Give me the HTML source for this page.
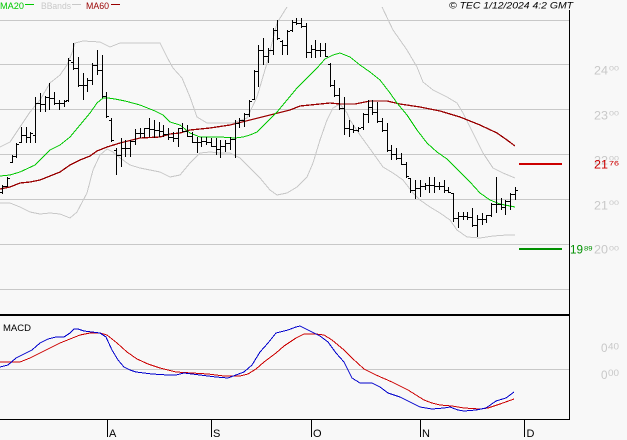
<!DOCTYPE html>
<html><head><meta charset="utf-8"><style>
html,body{margin:0;padding:0;background:#f8f8f8;}
svg{display:block;font-family:"Liberation Sans",Arial,sans-serif;}
</style></head><body>
<svg width="627" height="440" viewBox="0 0 627 440" xmlns="http://www.w3.org/2000/svg">
<defs>
<clipPath id="cm"><rect x="0" y="7" width="569" height="307"/></clipPath>
<clipPath id="cd"><rect x="0" y="316" width="569" height="103"/></clipPath>
</defs>
<rect x="0" y="0" width="627" height="440" fill="#f8f8f8"/>

<g stroke="#c8c8c8" stroke-width="1" shape-rendering="crispEdges">
<path d="M0 20.5H569M0 64.5H569M0 109.5H569M0 154.5H569M0 199.5H569M0 244.5H569M0 289.5H569M0 369.5H569"/>
</g>

<text x="0" y="8.8" font-size="9" fill="#00c800" textLength="24" lengthAdjust="spacingAndGlyphs">MA20</text>
<rect x="25" y="4" width="9" height="1" fill="#00c800"/>
<text x="41" y="8.8" font-size="9" fill="#c8c8c8" textLength="30" lengthAdjust="spacingAndGlyphs">BBands</text>
<rect x="72" y="4" width="9" height="1" fill="#c8c8c8"/>
<text x="86" y="8.8" font-size="9" fill="#990000" textLength="23" lengthAdjust="spacingAndGlyphs">MA60</text>
<rect x="111" y="4" width="9" height="1" fill="#990000"/>

<text x="449" y="8.6" font-size="9" font-style="italic" fill="#000" textLength="124" lengthAdjust="spacingAndGlyphs">© TEC 1/12/2024 4:2 GMT</text>

<g clip-path="url(#cm)" fill="none" shape-rendering="crispEdges">
<polyline stroke="#c8c8c8" stroke-width="1" points="0,147 10,142 20,127 30,112 40,100 50,83 60,75 67,65 72,53 75,43 83,41 100,42 110,47 120,43 140,43 160,43 167,57 173,68 182,78 190,97 197,117 207,123 233,123 247,118 257,97 267,63 277,23 287,7 297,-15 373,-15 383,9 393,30 407,50 417,67 423,82 433,90 447,97 457,103 463,113 473,133 483,153 493,168 503,173 515,178"/>
<polyline stroke="#c8c8c8" stroke-width="1" points="0,203 10,203 20,207 30,212 40,214 50,213 60,214 70,218 77,212 87,193 93,170 100,155 107,149 113,152 120,158 130,165 140,168 160,172 170,177 180,175 190,163 200,153 210,152 220,153 230,153 240,158 250,168 260,178 270,190 277,195 287,193 297,187 307,177 313,163 320,140 327,120 333,108 340,104 347,113 350,120 360,135 373,153 383,167 393,173 403,180 413,193 420,200 430,207 440,213 450,220 457,230 467,237 480,238 493,236 507,235 515,235"/>
<polyline stroke="#990000" stroke-width="1.3" points="0,189 10,187 20,183 30,182 40,180 50,176 60,172 70,165 80,160 90,156 97,151 107,147 120,143 140,138 160,137 170,134 180,133 190,130 210,128 230,125 250,120 270,115 290,110 300,106 310,105 330,103 340,104 355,104 370,101 387,101 400,104 420,107 440,111 460,117 480,125 497,133 507,140 515,146"/>
<polyline stroke="#00c800" stroke-width="1" points="0,176 10,175 20,172 35,165 40,160 50,150 60,145 70,137 80,125 90,113 97,103 103,98 108,98 115,99 125,101 140,105 155,111 163,115 170,122 180,125 190,133 200,137 210,137 220,137 235,138 243,137 250,135 257,132 267,122 277,112 287,100 297,88 307,78 317,68 325,59 333,55 340,53 350,57 360,65 370,72 380,80 390,93 397,103 407,115 417,130 427,143 437,152 447,159 460,172 470,182 480,193 490,200 500,204 510,206 515,207"/>
<path stroke="#000" stroke-width="1" d="M2.5 185V194M7.5 177V187M12.5 155V163M16.5 143V158M21.5 127V143M26.5 127V143M30.5 132V143M35.5 97V143M40.5 93V112M45.5 96V112M49.5 83V110M54.5 92V105M59.5 100V110M64.5 100V107M68.5 58V102M73.5 43V70M78.5 57V87M83.5 73V100M87.5 78V92M92.5 63V85M97.5 50V75M102.5 55V98M106.5 92V118M111.5 118V142M116.5 148V175M121.5 138V167M125.5 140V157M130.5 140V157M135.5 129V145M140.5 128V138M144.5 128V138M149.5 118V137M154.5 120V138M159.5 122V137M163.5 125V137M168.5 128V140M173.5 132V142M178.5 128V147M182.5 123V132M187.5 125V137M192.5 132V143M197.5 137V153M201.5 137V147M206.5 137V145M211.5 138V147M216.5 138V155M220.5 140V158M225.5 140V152M230.5 137V150M235.5 120V158M239.5 118V128M244.5 113V127M249.5 100V117M254.5 70V100M258.5 45V87M263.5 38V65M268.5 48V63M273.5 28V55M277.5 20V40M282.5 40V55M287.5 30V55M292.5 20V32M296.5 18V25M301.5 18V28M306.5 23V58M311.5 45V58M315.5 40V58M320.5 43V57M325.5 43V57M330.5 63V87M334.5 80V97M339.5 88V110M344.5 97V135M349.5 120V137M353.5 125V133M358.5 127V132M363.5 113V130M368.5 100V123M372.5 100V115M377.5 102V123M382.5 118V132M387.5 123V152M391.5 145V160M396.5 148V160M401.5 153V165M406.5 162V178M410.5 178V193M415.5 180V199M420.5 180V197M425.5 183V190M429.5 177V193M434.5 177V193M439.5 182V190M444.5 180V193M448.5 187V193M453.5 193V222M458.5 212V228M463.5 212V220M467.5 212V220M472.5 208V227M477.5 215V237M482.5 213V225M486.5 215V223M491.5 203V217M496.5 177V213M501.5 198V210M505.5 200V215M510.5 193V210M515.5 187V200"/>
<path stroke="#000" stroke-width="1" d="M0 192.5h2M5 186.5h2M10 162.5h2M14 156.5h2M19 142.5h2M24 135.5h2M28 137.5h2M33 135.5h2M38 103.5h2M43 104.5h2M47 97.5h2M52 98.5h2M57 103.5h2M62 103.5h2M66 100.5h2M71 62.5h2M76 68.5h2M81 85.5h2M85 85.5h2M90 80.5h2M95 65.5h2M100 70.5h2M104 96.5h2M109 120.5h2M114 150.5h2M119 155.5h2M123 148.5h2M128 148.5h2M133 141.5h2M138 133.5h2M142 133.5h2M147 128.5h2M152 129.5h2M157 130.5h2M161 131.5h2M166 134.5h2M171 137.5h2M176 138.5h2M180 128.5h2M185 131.5h2M190 136.5h2M195 142.5h2M199 142.5h2M204 141.5h2M209 142.5h2M214 146.5h2M218 149.5h2M223 146.5h2M228 143.5h2M233 139.5h2M237 123.5h2M242 120.5h2M247 114.5h2M252 99.5h2M256 71.5h2M261 50.5h2M266 56.5h2M271 50.5h2M275 30.5h2M280 41.5h2M285 45.5h2M290 30.5h2M294 22.5h2M299 23.5h2M304 26.5h2M309 52.5h2M313 49.5h2M318 50.5h2M323 50.5h2M328 64.5h2M332 85.5h2M337 95.5h2M342 108.5h2M347 128.5h2M351 129.5h2M356 130.5h2M361 127.5h2M366 114.5h2M370 107.5h2M375 112.5h2M380 121.5h2M385 130.5h2M389 150.5h2M394 154.5h2M399 158.5h2M404 164.5h2M408 178.5h2M413 190.5h2M418 188.5h2M423 186.5h2M427 185.5h2M432 185.5h2M437 186.5h2M442 186.5h2M446 190.5h2M451 193.5h2M456 218.5h2M461 216.5h2M465 216.5h2M470 217.5h2M475 225.5h2M480 219.5h2M484 219.5h2M489 215.5h2M494 204.5h2M499 204.5h2M503 207.5h2M508 201.5h2M513 194.5h2"/>
<path stroke="#000" stroke-width="1" d="M3 186.5h2M8 178.5h2M13 156.5h2M17 144.5h2M22 135.5h2M27 137.5h2M31 133.5h2M36 103.5h2M41 104.5h2M46 97.5h2M50 98.5h2M55 103.5h2M60 103.5h2M65 101.5h2M69 60.5h2M74 68.5h2M79 85.5h2M84 85.5h2M88 80.5h2M93 65.5h2M98 70.5h2M103 96.5h2M107 116.5h2M112 140.5h2M117 155.5h2M122 148.5h2M126 148.5h2M131 141.5h2M136 133.5h2M141 133.5h2M145 128.5h2M150 129.5h2M155 130.5h2M160 131.5h2M164 134.5h2M169 137.5h2M174 138.5h2M179 128.5h2M183 131.5h2M188 136.5h2M193 142.5h2M198 142.5h2M202 141.5h2M207 142.5h2M212 146.5h2M217 149.5h2M221 146.5h2M226 143.5h2M231 139.5h2M236 123.5h2M240 120.5h2M245 114.5h2M250 101.5h2M255 71.5h2M259 50.5h2M264 56.5h2M269 50.5h2M274 30.5h2M278 38.5h2M283 45.5h2M288 31.5h2M293 22.5h2M297 23.5h2M302 26.5h2M307 52.5h2M312 49.5h2M316 50.5h2M321 50.5h2M326 56.5h2M331 85.5h2M335 95.5h2M340 108.5h2M345 128.5h2M350 129.5h2M354 130.5h2M359 128.5h2M364 114.5h2M369 107.5h2M373 112.5h2M378 121.5h2M383 130.5h2M388 150.5h2M392 154.5h2M397 158.5h2M402 164.5h2M407 176.5h2M411 190.5h2M416 188.5h2M421 186.5h2M426 185.5h2M430 185.5h2M435 186.5h2M440 186.5h2M445 190.5h2M449 192.5h2M454 218.5h2M459 216.5h2M464 216.5h2M468 217.5h2M473 225.5h2M478 219.5h2M483 219.5h2M487 215.5h2M492 204.5h2M497 204.5h2M502 207.5h2M506 201.5h2M511 194.5h2M516 190.5h2"/>
</g>

<rect x="519" y="163" width="43" height="2" fill="#cc0000"/>
<rect x="519" y="248" width="43" height="2" fill="#009000"/>

<g fill="#c8c8c8">
<text x="594" y="74.5" font-size="12" textLength="14" lengthAdjust="spacingAndGlyphs">24</text>
<text x="609" y="70.3" font-size="6.2" textLength="10" lengthAdjust="spacingAndGlyphs">00</text>
<text x="594" y="119.5" font-size="12" textLength="14" lengthAdjust="spacingAndGlyphs">23</text>
<text x="609" y="115.3" font-size="6.2" textLength="10" lengthAdjust="spacingAndGlyphs">00</text>
<text x="594" y="164.5" font-size="12" textLength="14" lengthAdjust="spacingAndGlyphs">22</text>
<text x="609" y="160.3" font-size="6.2" textLength="10" lengthAdjust="spacingAndGlyphs">00</text>
<text x="594" y="209.4" font-size="12" textLength="14" lengthAdjust="spacingAndGlyphs">21</text>
<text x="609" y="205.2" font-size="6.2" textLength="10" lengthAdjust="spacingAndGlyphs">00</text>
<text x="594" y="253.6" font-size="12" textLength="14" lengthAdjust="spacingAndGlyphs">20</text>
<text x="609" y="250.5" font-size="6.2" textLength="10" lengthAdjust="spacingAndGlyphs">00</text>
</g>
<g fill="#cc0000">
<text x="594" y="168.4" font-size="12" textLength="14" lengthAdjust="spacingAndGlyphs">21</text>
<text x="609" y="165.7" font-size="6.5" textLength="10" lengthAdjust="spacingAndGlyphs">76</text>
</g>
<g fill="#009000">
<text x="570" y="253.5" font-size="12" textLength="13" lengthAdjust="spacingAndGlyphs">19</text>
<text x="584" y="250.7" font-size="6.5" textLength="8.5" lengthAdjust="spacingAndGlyphs">89</text>
</g>

<text x="3" y="331" font-size="9.5" fill="#000" textLength="28" lengthAdjust="spacingAndGlyphs">MACD</text>
<g clip-path="url(#cd)" fill="none" stroke-width="1" shape-rendering="crispEdges">
<polyline stroke="#cc0000" points="0,362 7,362 20,362 30,358 40,353 50,348 60,343 70,339 80,335 90,333 100,333 107,335 117,343 127,352 137,359 148,364 160,368 176,372 192,373 208,374 224,376 240,376 248,374 256,369 264,362 276,353 284,346 296,338 304,334 316,334 324,335 332,340 344,350 352,358 364,369 376,375 392,382 408,390 424,400 432,403 440,405 452,406 464,408 480,409 488,408 500,404 514,399"/>
<polyline stroke="#0000cc" points="0,367 8,365 16,358 24,354 32,350 40,343 48,339 56,337 64,337 70,333 74,329 78,329 84,331 92,332 100,333 106,337 112,350 118,360 124,367 130,370 136,372 152,374 168,375 176,375 184,373 200,375 216,377 228,378 236,375 244,372 252,365 260,352 268,343 276,333 288,330 296,327 300,326 304,328 312,332 320,336 328,342 336,353 344,362 352,378 360,383 372,383 380,387 388,393 400,397 412,403 420,407 432,409 444,408 450,407 458,410 464,411 476,410 486,408 496,401 506,398 514,392"/>
</g>
<g fill="#c8c8c8">
<text x="601" y="352" font-size="12" textLength="6.5" lengthAdjust="spacingAndGlyphs">0</text>
<text x="608" y="349.3" font-size="9" textLength="11" lengthAdjust="spacingAndGlyphs">40</text>
<text x="601" y="379" font-size="12" textLength="6.5" lengthAdjust="spacingAndGlyphs">0</text>
<text x="608" y="376.2" font-size="9" textLength="11" lengthAdjust="spacingAndGlyphs">00</text>
</g>

<rect x="0" y="314" width="570" height="2" fill="#000"/>
<rect x="569" y="10" width="1" height="410" fill="#000"/>
<rect x="0" y="419" width="570" height="1" fill="#000"/>

<path stroke="#000" stroke-width="1" shape-rendering="crispEdges" d="M107.5 419V437M211.5 419V437M311.5 419V437M420.5 419V437M524.5 419V437"/>
<g font-size="11" fill="#000">
<text x="109" y="437">A</text>
<text x="213" y="437">S</text>
<text x="313" y="437">O</text>
<text x="422" y="437">N</text>
<text x="526.5" y="437">D</text>
</g>
</svg>
</body></html>
